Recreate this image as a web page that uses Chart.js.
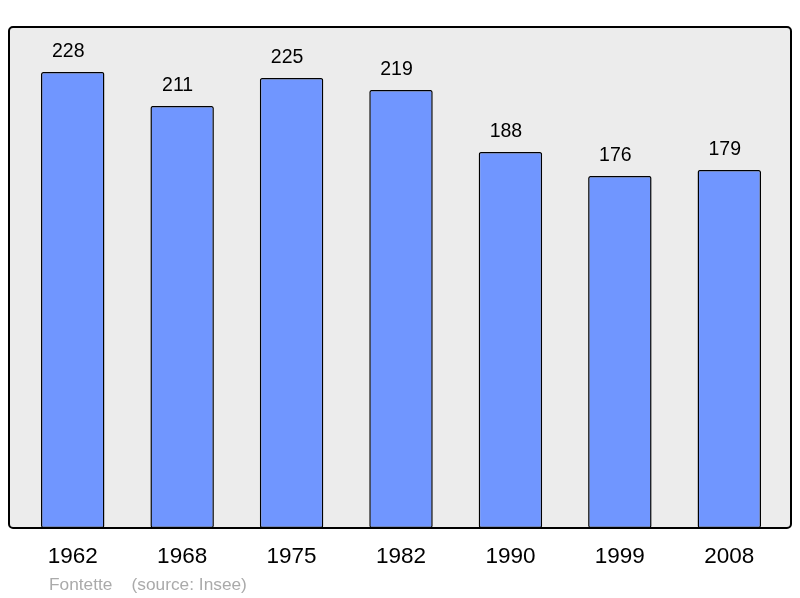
<!DOCTYPE html>
<html><head><meta charset="utf-8">
<script src="https://cdn.jsdelivr.net/npm/chart.js@4/dist/chart.umd.min.js"></script>
<style>html,body{margin:0;padding:0;background:#fff}canvas{display:block}</style>
</head><body>
<canvas id="c" width="800" height="598"></canvas>
<script>
const years = ["1962","1968","1975","1982","1990","1999","2008"];
const population = [228,211,225,219,188,176,179];
const footerText = "Fontette    (source: Insee)";

const frame = {
  id: 'frame',
  beforeDraw(chart) {
    const {ctx, chartArea: a} = chart;
    const l = a.left - 9, r = a.right + 7, t = a.top, b = a.bottom;
    ctx.save();
    ctx.beginPath();
    ctx.roundRect(l, t, r - l, b - t, 4);
    ctx.fillStyle = '#ececec';
    ctx.fill();
    ctx.restore();
  },
  afterDatasetsDraw(chart) {
    const {ctx, chartArea: a} = chart;
    const l = a.left - 9, r = a.right + 7, t = a.top, b = a.bottom;
    ctx.save();
    ctx.beginPath();
    ctx.roundRect(l, t, r - l, b - t, 4);
    ctx.lineWidth = 2;
    ctx.strokeStyle = '#000';
    ctx.stroke();
    const xs = chart.scales.x, ys = chart.scales.y;
    ctx.fillStyle = '#000';
    ctx.textAlign = 'center';
    ctx.textBaseline = 'middle';
    population.forEach((v, i) => {
      const x = xs.getPixelForValue(i);
      ctx.font = '19.5px "Liberation Sans", Arial, sans-serif';
      ctx.fillText(String(v), x - 4.5, ys.getPixelForValue(v) - 20);
      ctx.font = '22.5px "Liberation Sans", Arial, sans-serif';
      ctx.fillText(years[i], x, b + 29);
    });
    ctx.font = '17.3px "Liberation Sans", Arial, sans-serif';
    ctx.fillStyle = '#aaaaaa';
    ctx.textAlign = 'left';
    ctx.fillText(footerText, 49, b + 57);
    ctx.restore();
  }
};

new Chart(document.getElementById('c'), {
  type: 'bar',
  data: {
    labels: years,
    datasets: [{
      data: population,
      backgroundColor: '#7096ff',
      borderColor: '#000',
      borderWidth: 1.5,
      borderRadius: 2,
      borderSkipped: false,
      barPercentage: 0.58,
      categoryPercentage: 1
    }]
  },
  options: {
    responsive: false,
    animation: false,
    devicePixelRatio: 1,
    layout: {padding: {left: 18, right: 16, top: 27, bottom: 70}},
    plugins: {legend: {display: false}, tooltip: {enabled: false}},
    scales: {
      x: {display: false, offset: true},
      y: {display: false, min: 0, max: 250.5}
    }
  },
  plugins: [frame]
});
</script>
</body></html>
